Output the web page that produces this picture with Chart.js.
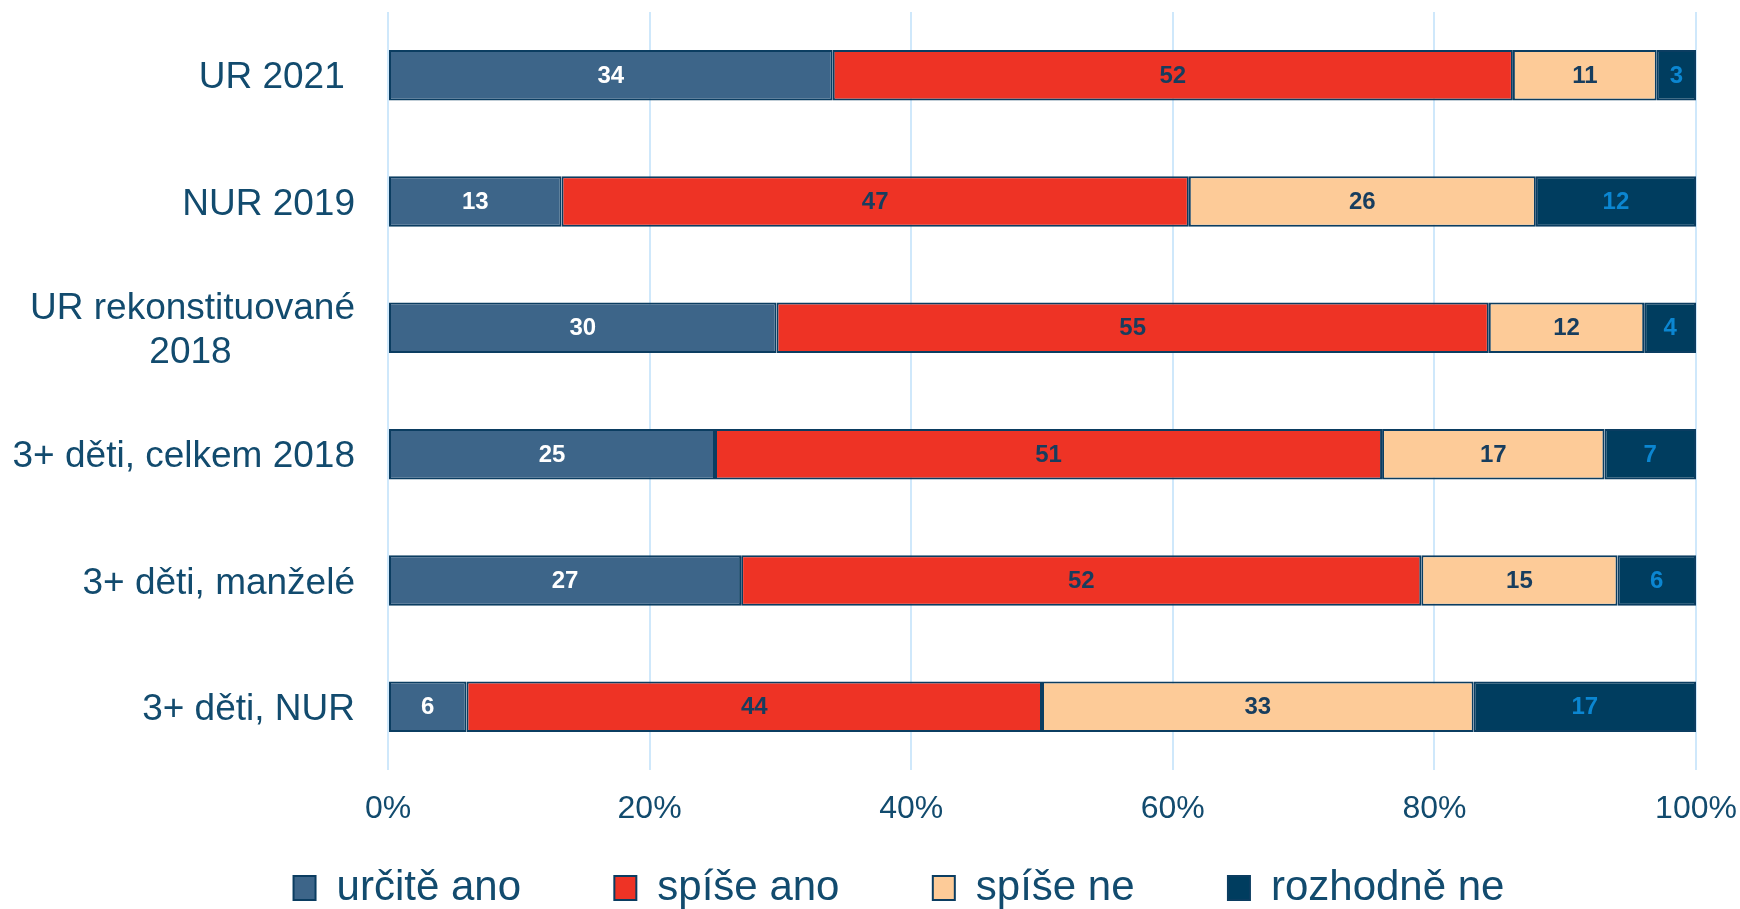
<!DOCTYPE html>
<html>
<head>
<meta charset="utf-8">
<script src="https://cdn.jsdelivr.net/npm/chart.js@4.4.0/dist/chart.umd.min.js"></script>
<style>
  html, body { margin: 0; padding: 0; background: #fff; }
</style>
</head>
<body>
<canvas id="graf" width="1740" height="909"></canvas>
<script>
// kategorie na ose Y
var skupiny = ['UR 2021 ', 'NUR 2019', ['UR rekonstituované', '2018            '], '3+ děti, celkem 2018', '3+ děti, manželé', '3+ děti, NUR'];
// odpovedi (legenda)
var odpovedi = ['určitě ano', 'spíše ano', 'spíše ne', 'rozhodně ne'];
// hodnoty v %
var urcite_ano = [34, 13, 30, 25, 27, 6];
var spise_ano = [52, 47, 55, 51, 52, 44];
var spise_ne = [11, 26, 12, 17, 15, 33];
var rozhodne_ne = [3, 12, 4, 7, 6, 17];
// osa X
var osa_x_krok = 20;
var osa_x_max = 100;

var barvaTextu = '#124b6e';
var pismo = '"Liberation Sans", Arial, sans-serif';

// sloupce jsou 100% skladane, hodnoty se prepocitaji na podil
var soucty = urcite_ano.map(function (v, i) {
    return v + spise_ano[i] + spise_ne[i] + rozhodne_ne[i];
});
function podil(arr) {
    return arr.map(function (v, i) { return v / soucty[i] * 100; });
}

// popisky uvnitr sloupcu
var popisky = {
    id: 'popisky',
    afterDatasetsDraw: function (chart) {
        var ctx = chart.ctx;
        ctx.save();
        ctx.font = 'bold 24px ' + pismo;
        ctx.textAlign = 'center';
        ctx.textBaseline = 'middle';
        chart.data.datasets.forEach(function (ds, i) {
            chart.getDatasetMeta(i).data.forEach(function (bar, j) {
                ctx.fillStyle = ds.barvaPopisku;
                ctx.fillText(ds.hodnoty[j], (bar.x + bar.base) / 2, bar.y + 1);
            });
        });
        ctx.restore();
    }
};

// legenda je v originale trochu posunuta doprava
var posunLegendy = {
    id: 'posunLegendy',
    afterLayout: function (chart) {
        chart.legend.left += 46;
        chart.legend.right += 46;
    }
};

var graf = new Chart(document.getElementById('graf'), {
    type: 'bar',
    data: {
        labels: skupiny,
        datasets: [{
                label: odpovedi[0],
                data: podil(urcite_ano),
                hodnoty: urcite_ano,
                backgroundColor: '#3d6589',
                borderColor: '#0b3d61',
                barvaPopisku: '#ffffff'
            }, {
                label: odpovedi[1],
                data: podil(spise_ano),
                hodnoty: spise_ano,
                backgroundColor: '#ee3325',
                borderColor: '#0b3d61',
                barvaPopisku: '#173d5e'
            }, {
                label: odpovedi[2],
                data: podil(spise_ne),
                hodnoty: spise_ne,
                backgroundColor: '#fdcb98',
                borderColor: '#0b3d61',
                barvaPopisku: '#173d5e'
            }, {
                label: odpovedi[3],
                data: podil(rozhodne_ne),
                hodnoty: rozhodne_ne,
                backgroundColor: '#003d5f',
                borderColor: '#0b3d61',
                barvaPopisku: '#0b86d1'
            }]
    },
    options: {
        indexAxis: 'y',
        responsive: false,
        animation: false,
        datasets: {
            bar: {
                borderWidth: 2,
                borderSkipped: false,
                categoryPercentage: 1,
                barPercentage: 0.4
            }
        },
        layout: {
            padding: { left: 10, right: 44, top: 12, bottom: 0 }
        },
        scales: {
            x: {
                stacked: true,
                min: 0,
                max: osa_x_max,
                grid: { color: '#cfe8fb', lineWidth: 2, drawTicks: false },
                border: { display: false },
                ticks: {
                    stepSize: osa_x_krok,
                    padding: 20,
                    color: barvaTextu,
                    font: { family: pismo, size: 32 },
                    callback: function (v) { return v + '%'; }
                },
                afterFit: function (s) {
                    s.height = 97;
                    s.paddingLeft = 0;
                    s.paddingRight = 0;
                }
            },
            y: {
                stacked: true,
                grid: { display: false, drawTicks: false },
                border: { display: false },
                ticks: {
                    padding: 33,
                    labelOffset: 3,
                    color: barvaTextu,
                    font: { family: pismo, size: 37, lineHeight: 1.17 }
                },
                afterFit: function (s) {
                    s.width = 378;
                    s.paddingTop = 0;
                    s.paddingBottom = 0;
                }
            }
        },
        plugins: {
            tooltip: { enabled: false },
            legend: {
                position: 'bottom',
                maxHeight: 42,
                labels: {
                    boxWidth: 22,
                    boxHeight: 24,
                    padding: 0,
                    color: barvaTextu,
                    font: { family: pismo, size: 42 },
                    generateLabels: function (chart) {
                        var items = Chart.defaults.plugins.legend.labels.generateLabels(chart);
                        items.forEach(function (it, i) {
                            if (i < items.length - 1) it.text = it.text + '        ';
                        });
                        return items;
                    }
                }
            }
        }
    },
    plugins: [popisky, posunLegendy]
});
</script>
</body>
</html>
